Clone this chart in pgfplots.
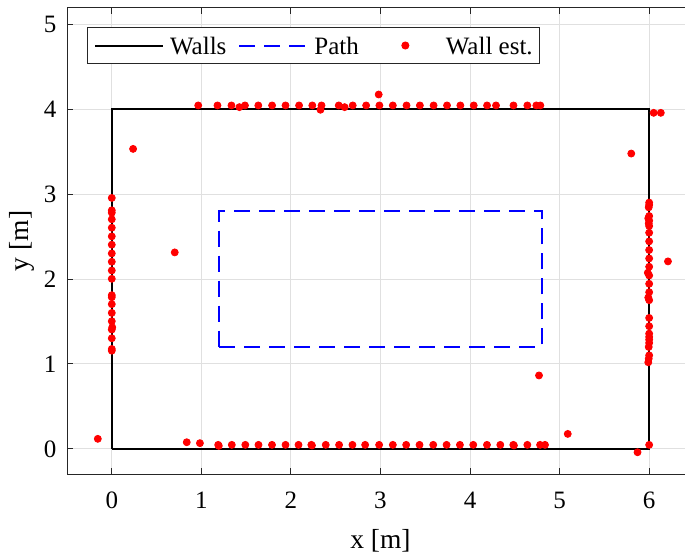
\documentclass[border=0pt]{standalone}
\usepackage{fontspec}
\setmainfont{Liberation Serif}
\usepackage{pgfplots}
\pgfplotsset{compat=1.18}
\pgfplotsset{
 linelegend/.style={legend image code/.code={\draw[##1] (0pt,0pt) -- (34pt,0pt);}},
 marklegend/.style={legend image code/.code={\path (0pt,0pt) (34pt,0pt); \draw[##1] plot coordinates {(17pt,0pt)};}},
}
\begin{document}
\begin{tikzpicture}
\path[use as bounding box] (-33.5pt,-39pt) rectangle (309pt,237.15pt);
\begin{axis}[
 at={(0pt,0pt)}, anchor=south west,
 scale only axis, width=309pt, height=233.35pt,
 xmin=-0.5, xmax=6.4, ymin=-0.3, ymax=5.2,
 axis x line*=box, axis y line*=left,
 xtick={0,1,2,3,4,5,6}, ytick={0,1,2,3,4,5},
 tick align=inside, major tick length=3pt,
 tick style={black!85, line width=0.5pt},
 axis line style={black!85, line width=0.5pt},
 grid=major, major grid style={black!12, line width=0.5pt},
 font=\fontsize{12.5}{15}\selectfont,
 /pgf/number format/assume math mode=true,
 xticklabel style={yshift=-5.3pt},
 yticklabel style={xshift=-1.8pt},
 xlabel={x [m]}, ylabel={y [m]},
 label style={font=\fontsize{13.75}{16}\selectfont},
 x label style={at={(axis description cs:0.50725,0)}, anchor=base, yshift=-36.9pt},
 y label style={at={(axis description cs:0,0.5)}, anchor=center, yshift=22.5pt},
 legend columns=3,
 legend style={at={(axis description cs:0,1)}, anchor=north west, xshift=9.8pt, yshift=-9.7pt,
   draw=black!85, line width=0.5pt, fill=white, inner xsep=3.5pt, inner ysep=2pt,
   font=\fontsize{12.5}{15}\selectfont,
   nodes={inner xsep=0pt, inner ysep=2.7pt, text height=8.6pt, text depth=0pt},
   /tikz/every odd column/.append style={column sep=3pt},
   /tikz/every even column/.append style={column sep=6pt}},
]
\addplot[black, line width=1pt, linelegend]
 coordinates {(0,0) (6,0) (6,4) (0,4) (0,0)};
\addlegendentry{Walls}
\addplot[blue, line width=1pt, dash pattern=on 8pt off 4.5pt, linelegend]
 coordinates {(1.2,1.2) (4.8,1.2) (4.8,2.8) (1.2,2.8) (1.2,1.2)};
\addlegendentry{Path}
\addplot[only marks, mark=*, mark size=1.75pt, red, mark options={draw=none, fill=red}, marklegend]
 table {
x y
0.965 4.047
1.18 4.047
1.336 4.047
1.425 4.027
1.487 4.047
1.636 4.047
1.790 4.047
1.940 4.047
2.091 4.047
2.239 4.047
2.342 4.047
2.330 3.996
2.534 4.047
2.600 4.027
2.690 4.047
2.840 4.047
2.988 4.047
2.980 4.176
3.138 4.047
3.291 4.047
3.440 4.047
3.593 4.047
3.743 4.047
3.892 4.047
4.041 4.047
4.190 4.047
4.290 4.047
4.485 4.047
4.640 4.047
4.740 4.047
4.785 4.047
6.05 3.96
6.13 3.96
-0.156 0.118
0.837 0.078
0.984 0.067
1.188 0.047
1.195 0.035
1.340 0.047
1.491 0.047
1.638 0.047
1.789 0.047
1.940 0.047
2.085 0.047
2.228 0.047
2.235 0.040
2.389 0.047
2.538 0.047
2.687 0.047
2.829 0.047
2.985 0.047
3.138 0.047
3.287 0.047
3.436 0.047
3.589 0.047
3.738 0.047
3.887 0.047
4.036 0.047
4.189 0.047
4.338 0.047
4.483 0.047
4.490 0.040
4.640 0.047
4.782 0.047
4.837 0.047
5.091 0.176
5.870 -0.040
6.0 0.047
4.77 0.865
0 2.957
0 2.811
0 2.783
0 2.705
0 2.606
0 2.504
0 2.406
0 2.303
0 2.205
0 2.102
0 2.004
0 1.811
0 1.787
0 1.705
0 1.602
0 1.504
0.005 1.433
0 1.406
0 1.303
0 1.177
0 1.157
0.238 3.535
0.703 2.315
6 2.902
6 2.874
5.995 2.846
6 2.744
5.99 2.717
6 2.689
5.995 2.657
6 2.626
6 2.547
6 2.445
6 2.343
6 2.244
6 2.146
5.985 2.075
6 2.043
6 1.945
6 1.846
5.99 1.783
6 1.752
6 1.543
6 1.445
6 1.358
6 1.319
6 1.287
6 1.248
5.995 1.201
6 1.102
5.995 1.063
5.99 1.020
5.80 3.48
6.21 2.209
};
\addlegendentry{Wall est.}
\end{axis}
\end{tikzpicture}
\end{document}
